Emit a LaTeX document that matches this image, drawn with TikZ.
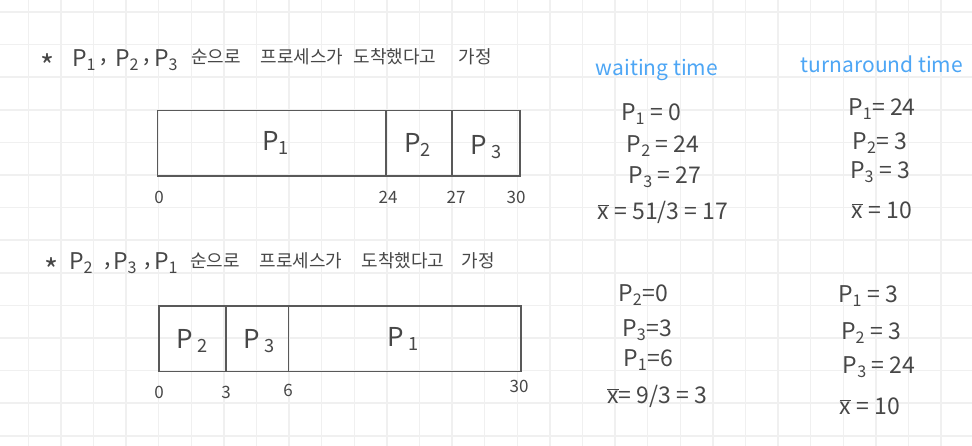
\documentclass[tikz,border=0pt]{standalone}
\usepackage{fontspec}
\setmainfont{Noto Sans CJK KR}
\definecolor{ink}{HTML}{474747}
\definecolor{hand}{HTML}{4DA6F5}
\definecolor{gridc}{HTML}{F0F0F0}
\newcommand\Ps[1]{P\textsubscript{#1}}
\newcommand\xbar{$\overline{\mbox{x}}$}
\tikzset{
  hd/.style={text=ink, font=\fontsize{23}{26}\selectfont, inner sep=0pt},
  star/.style={text=ink, font=\fontsize{30}{32}\selectfont, inner sep=0pt},
  kr/.style={text=ink, font=\fontsize{18}{21}\selectfont, inner sep=0pt},
  eq/.style={text=ink, font=\fontsize{23}{26}\selectfont, inner sep=0pt},
  blue label/.style={text=hand, font=\fontsize{21}{24}\selectfont, inner sep=0pt},
  boxlab/.style={text=ink, font=\fontsize{26}{30}\selectfont, inner sep=0pt},
  tick/.style={text=ink, font=\fontsize{17}{20}\selectfont, inner sep=0pt},
  gantt/.style={draw=ink!90, line width=1.6pt},
}
\begin{document}
\begin{tikzpicture}[x=1pt, y=-1pt]
\useasboundingbox (0,0) rectangle (972,446);
\fill[white] (0,0) rectangle (972,446);
% grid
\foreach \i in {0,...,29} {
  \draw[gridc, line width=1.5pt] ({28.3+32.6*\i},0) -- ({28.3+32.6*\i},446);
}
\foreach \j in {0,...,13} {
  \draw[gridc, line width=1.5pt] (0,{12+32.6*\j}) -- (972,{12+32.6*\j});
}
% header 1
\node[star] (a1) at (48,66) {*};
\node[hd] (a2) at (84,60) {\Ps{1}};
\node[hd] (a3) at (104,62) {,};
\node[hd] (a4) at (127,60) {\Ps{2}};
\node[hd] (a5) at (147,62) {,};
\node[hd] (a6) at (166,60) {\Ps{3}};
\node[kr] (a7) at (216,57) {순으로};
\node[kr] (a8) at (302,57) {프로세스가};
\node[kr] (a9) at (395,57) {도착했다고};
\node[kr] (a10) at (475,57) {가정};
% gantt 1
\coordinate (g1tl) at (157.5,110.5);
\coordinate (g1br) at (520,176);
\draw[gantt] (g1tl) rectangle (g1br);
\coordinate (d1t) at (386,110.5); \coordinate (d1b) at (386,176);
\coordinate (d2t) at (452,110.5); \coordinate (d2b) at (452,176);
\draw[gantt] (d1t) -- (d1b);
\draw[gantt] (d2t) -- (d2b);
\node[boxlab] (b1p1) at (276,143) {\Ps{1}};
\node[boxlab] (b1p2) at (418,145) {\Ps{2}};
\node[boxlab] (b1p3) at (486,147) {P\,\textsubscript{3}};
\node[tick] (t10) at (159,197) {0};
\node[tick] (t124) at (388,197) {24};
\node[tick] (t127) at (456,197) {27};
\node[tick] (t130) at (516,197) {30};
% header 2
\node[star] (c1) at (52,270) {*};
\node[hd] (c2) at (81,263) {\Ps{2}};
\node[hd] (c3) at (108,266) {,};
\node[hd] (c4) at (125,263) {\Ps{3}};
\node[hd] (c5) at (148,266) {,};
\node[hd] (c6) at (166,263) {\Ps{1}};
\node[kr] (c7) at (215,261) {순으로};
\node[kr] (c8) at (301,261) {프로세스가};
\node[kr] (c9) at (403,261) {도착했다고};
\node[kr] (c10) at (478,261) {가정};
% gantt 2
\coordinate (g2tl) at (159,306);
\coordinate (g2br) at (521,371.5);
\draw[gantt] (g2tl) rectangle (g2br);
\coordinate (e1t) at (226,306); \coordinate (e1b) at (226,371.5);
\coordinate (e2t) at (288.5,306); \coordinate (e2b) at (288.5,371.5);
\draw[gantt] (e1t) -- (e1b);
\draw[gantt] (e2t) -- (e2b);
\node[boxlab] (b2p2) at (192,341) {P\,\textsubscript{2}};
\node[boxlab] (b2p3) at (259,341) {P\,\textsubscript{3}};
\node[boxlab] (b2p1) at (403,339) {P\,\textsubscript{1}};
\node[tick] (t20) at (159,392) {0};
\node[tick] (t23) at (226,392) {3};
\node[tick] (t26) at (288,390) {6};
\node[tick] (t230) at (519,386) {30};
% column headings
\node[blue label] (wt) at (657,70) {waiting time};
\node[blue label] (tt) at (882,64) {turnaround time};
% waiting time, case 1
\node[eq] (w11) at (651,114) {\Ps{1} = 0};
\node[eq] (w12) at (663,146) {\Ps{2} = 24};
\node[eq] (w13) at (665,177) {\Ps{3} = 27};
\node[eq] (w14) at (663,212) {\xbar\ = 51/3 = 17};
% turnaround, case 1
\node[eq] (u11) at (882,109) {\Ps{1}= 24};
\node[eq] (u12) at (880,143) {\Ps{2}= 3};
\node[eq] (u13) at (880,172) {\Ps{3} = 3};
\node[eq] (u14) at (882,210) {\xbar\ = 10};
% waiting time, case 2
\node[eq] (w21) at (643,295) {\Ps{2}=0};
\node[eq] (w22) at (647,330) {\Ps{3}=3};
\node[eq] (w23) at (648,360) {\Ps{1}=6};
\node[eq] (w24) at (657,396) {\xbar= 9/3 = 3};
% turnaround, case 2
\node[eq] (u21) at (868,296) {\Ps{1} = 3};
\node[eq] (u22) at (871,333) {\Ps{2} = 3};
\node[eq] (u23) at (879,367) {\Ps{3} = 24};
\node[eq] (u24) at (870,406) {\xbar\ = 10};
\end{tikzpicture}
\end{document}
